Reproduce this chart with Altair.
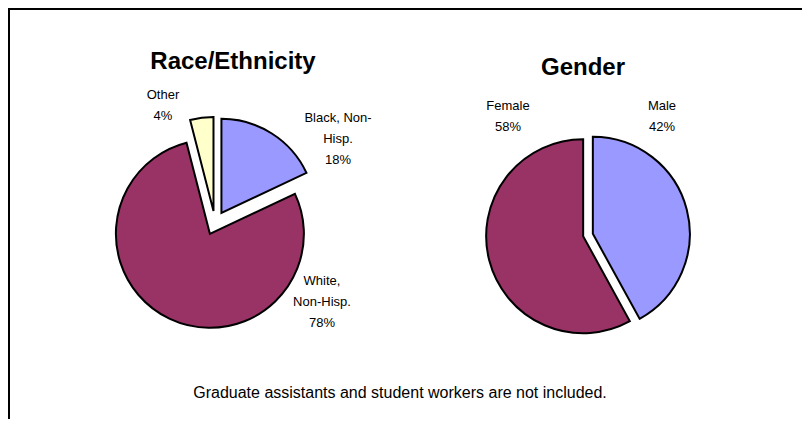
import altair as alt
import pandas as pd

# ---- data ----
race_categories = ["Black, Non-Hisp.", "White, Non-Hisp.", "Other"]
race_wrapped = ["Black, Non-\nHisp.", "White,\nNon-Hisp.", "Other"]
race_values = [18, 78, 4]

gender_categories = ["Male", "Female"]
gender_wrapped = ["Male", "Female"]
gender_values = [42, 58]

titles = ["Race/Ethnicity", "Gender"]
footnote = "Graduate assistants and student workers are not included."

# ---- layout (pixels inside the chart) ----
W, H = 794, 411
FONT = "Liberation Sans"
pie_layout = {
    "Race/Ethnicity": dict(cx=207, cy=215, r=94, d=12, tx=225, ty=54),
    "Gender": dict(cx=580, cy=227, r=97, d=5, tx=575, ty=60),
}
# label anchor: x centre, y centre of first line
label_layout = {
    "Black, Non-Hisp.": (330, 110),
    "White, Non-Hisp.": (314, 273),
    "Other": (155, 87),
    "Male": (654, 98),
    "Female": (500, 98),
}
color_domain = race_categories + gender_categories
color_range = ["#9999FF", "#993366", "#FFFFCC", "#9999FF", "#993366"]

rows = []
for grp, cats, wrapped, vals in [
    ("Race/Ethnicity", race_categories, race_wrapped, race_values),
    ("Gender", gender_categories, gender_wrapped, gender_values),
]:
    lay = pie_layout[grp]
    for i, (c, w, v) in enumerate(zip(cats, wrapped, vals)):
        lx, ly = label_layout[c]
        rows.append(dict(group=grp, category=c, value=v, order=i,
                         label=f"{w}\n{v}%", cx=lay["cx"], cy=lay["cy"],
                         r=lay["r"], d=lay["d"], lx=lx, ly=ly))
df = pd.DataFrame(rows)

title_df = pd.DataFrame([dict(text=t, x=pie_layout[t]["tx"], y=pie_layout[t]["ty"]) for t in titles])

base = alt.Chart(df).transform_window(
    cum="sum(value)", groupby=["group"], sort=[alt.SortField("order")], frame=[None, 0]
).transform_joinaggregate(
    total="sum(value)", groupby=["group"]
).transform_calculate(
    a0="(datum.cum - datum.value) / datum.total * 2 * PI",
    a1="datum.cum / datum.total * 2 * PI",
).transform_calculate(
    mid="(datum.a0 + datum.a1) / 2"
).transform_calculate(
    px="datum.cx + datum.d * sin(datum.mid)",
    py="datum.cy - datum.d * cos(datum.mid)",
)

arcs = base.mark_arc(stroke="black", strokeWidth=2, strokeJoin="miter").encode(
    theta=alt.Theta("a0:Q", scale=None),
    theta2="a1:Q",
    x=alt.X("px:Q", scale=None, axis=None),
    y=alt.Y("py:Q", scale=None, axis=None),
    radius=alt.Radius("r:Q", scale=None),
    color=alt.Color("category:N", scale=alt.Scale(domain=color_domain, range=color_range), legend=None),
)

labels = alt.Chart(df).mark_text(
    font=FONT, fontSize=13, lineBreak="\n", lineHeight=21, align="center", baseline="middle", color="black"
).encode(x=alt.X("lx:Q", scale=None, axis=None), y=alt.Y("ly:Q", scale=None, axis=None), text="label:N")

title_marks = alt.Chart(title_df).mark_text(
    font=FONT, fontSize=24, fontWeight="bold", align="center", baseline="middle", color="black"
).encode(x=alt.X("x:Q", scale=None, axis=None), y=alt.Y("y:Q", scale=None, axis=None), text="text:N")

foot = alt.Chart(pd.DataFrame({"text": [footnote]})).mark_text(
    font=FONT, fontSize=16, align="center", baseline="middle", color="black"
).encode(x=alt.value(392), y=alt.value(385), text="text:N")

top_rule = alt.Chart(pd.DataFrame({"a": [0]})).mark_rule(color="black", strokeWidth=2).encode(
    x=alt.value(0), x2=alt.value(W), y=alt.value(1))
left_rule = alt.Chart(pd.DataFrame({"a": [0]})).mark_rule(color="black", strokeWidth=2).encode(
    x=alt.value(1), y=alt.value(0), y2=alt.value(H))

chart = alt.layer(arcs, labels, title_marks, foot, top_rule, left_rule).properties(
    width=W, height=H, padding=0, autosize=alt.AutoSizeParams(type="none"), background="white"
).configure_view(stroke=None)

chart.save("out.html", embed_options={"renderer": "svg", "actions": False})
